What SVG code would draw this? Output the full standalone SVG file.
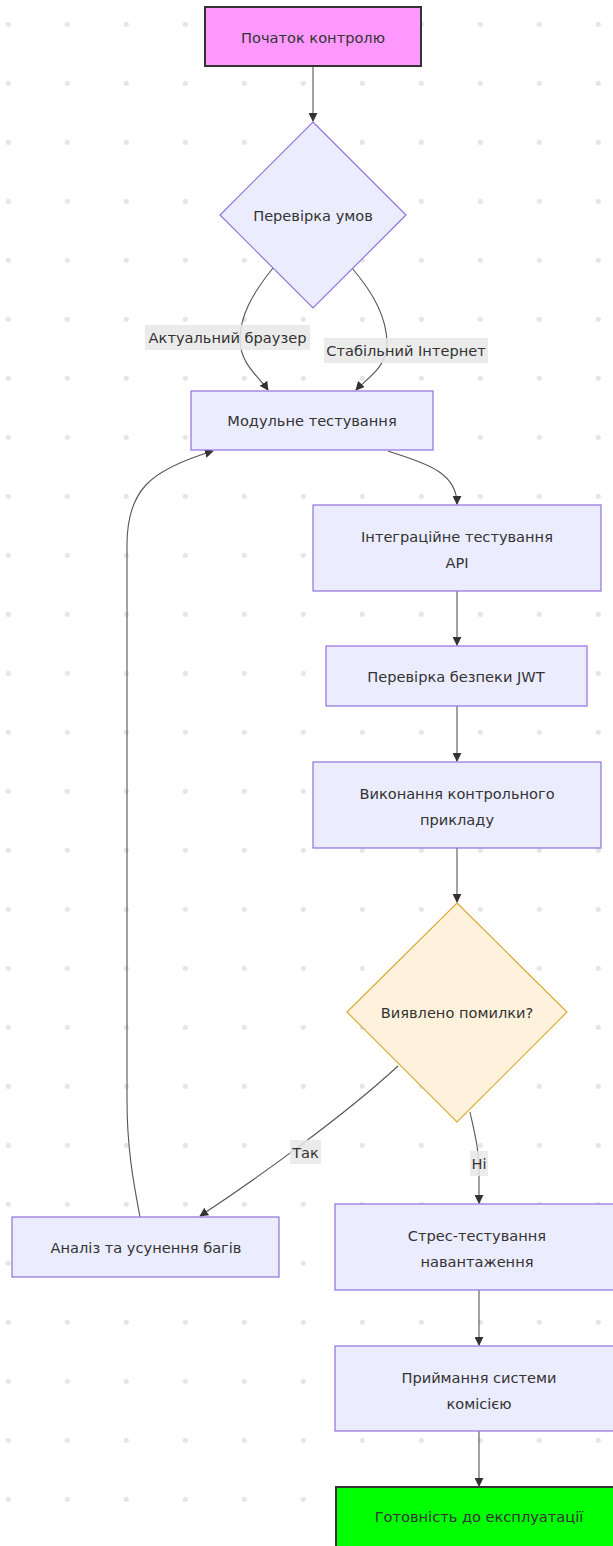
<svg xmlns="http://www.w3.org/2000/svg" width="613" height="1546" viewBox="0 0 613 1546">
<style>
  .node rect, .node polygon { fill: #ECECFF; stroke: #9370DB; stroke-width: 1.2; }
  .node text, .lbl text { font-family: "DejaVu Sans", Verdana, sans-serif; font-size: 14.6px; fill: #333; text-anchor: middle; dominant-baseline: central; }
  .edge { fill: none; stroke: #555; stroke-width: 1.1; marker-end: url(#arrow); }
  .lbl rect { fill: #e8e8e8; opacity: 0.85; }
</style>
<defs>
  <pattern id="dots" patternUnits="userSpaceOnUse" width="59" height="59">
    <circle cx="8.3" cy="24.3" r="2.6" fill="#e6e6e6"/>
  </pattern>
  <marker id="arrow" viewBox="0 0 10 10" refX="9" refY="5" markerUnits="userSpaceOnUse" markerWidth="9" markerHeight="9" orient="auto">
    <path d="M0,0 L10,5 L0,10 z" fill="#333"/>
  </marker>
</defs>
<rect width="613" height="1546" fill="#ffffff"/>
<rect width="613" height="1546" fill="url(#dots)"/>

<g id="connectors">
  <path class="edge" d="M313,67 L313,121"/>
  <path class="edge" d="M273,268 C252,294 240,316 240,340 C240,364 260,378 268,390"/>
  <path class="edge" d="M352,268 C374,294 387,318 387,344 C387,368 365,380 356,390"/>
  <path class="edge" d="M388,451 C420,462 457,470 457,504"/>
  <path class="edge" d="M457,591 L457,645"/>
  <path class="edge" d="M457,706 L457,761"/>
  <path class="edge" d="M457,848 L457,902"/>
  <path class="edge" d="M398,1066 C345,1115 255,1180 200,1216"/>
  <path class="edge" d="M470,1112 C475,1135 479,1150 479,1170 L479,1203"/>
  <path class="edge" d="M140,1217 C134,1185 127,1150 127,1100 L127,545 C127,490 150,470 213,451"/>
  <path class="edge" d="M479,1290 L479,1345"/>
  <path class="edge" d="M479,1431 L479,1486"/>
  <g class="lbl"><rect x="145" y="325" width="165" height="25"/><text x="227.5" y="337.5">Актуальний браузер</text></g>
  <g class="lbl"><rect x="324" y="338" width="164" height="25"/><text x="406" y="350.5">Стабільний Інтернет</text></g>
  <g class="lbl"><rect x="290" y="1140" width="31" height="24"/><text x="305.5" y="1152">Так</text></g>
  <g class="lbl"><rect x="470" y="1151" width="18" height="25"/><text x="479" y="1163.5">Ні</text></g>
</g>

<g id="start" class="node"><rect x="205" y="7" width="216" height="59" style="fill:#ff99ff;stroke:#333;stroke-width:2"/><text x="313" y="37">Початок контролю</text></g>
<g id="check" class="node"><polygon points="313,122 406,215 313,308 220,215"/><text x="313" y="215">Перевірка умов</text></g>
<g id="unit" class="node"><rect x="191" y="391" width="242" height="59"/><text x="312" y="420">Модульне тестування</text></g>
<g id="integ" class="node"><rect x="313" y="505" width="288" height="86"/><text x="457" y="536">Інтеграційне тестування</text><text x="457" y="562">API</text></g>
<g id="jwt" class="node"><rect x="326" y="646" width="261" height="60"/><text x="456" y="676">Перевірка безпеки JWT</text></g>
<g id="exec" class="node"><rect x="313" y="762" width="288" height="86"/><text x="457" y="793">Виконання контрольного</text><text x="457" y="819">прикладу</text></g>
<g id="errors" class="node"><polygon points="457,903 567,1012 457,1122 347,1012" style="fill:#fff2dc;stroke:#d9aa33"/><text x="457" y="1012">Виявлено помилки?</text></g>
<g id="bugs" class="node"><rect x="12" y="1217" width="267" height="60"/><text x="146" y="1247">Аналіз та усунення багів</text></g>
<g id="stress" class="node"><rect x="335" y="1204" width="288" height="86"/><text x="477" y="1235">Стрес-тестування</text><text x="477" y="1261">навантаження</text></g>
<g id="accept" class="node"><rect x="335" y="1346" width="288" height="85"/><text x="479" y="1377">Приймання системи</text><text x="479" y="1403">комісією</text></g>
<g id="ready" class="node"><rect x="336" y="1487" width="288" height="62" style="fill:#00ff00;stroke:#333;stroke-width:2"/><text x="479" y="1516">Готовність до експлуатації</text></g>
</svg>
